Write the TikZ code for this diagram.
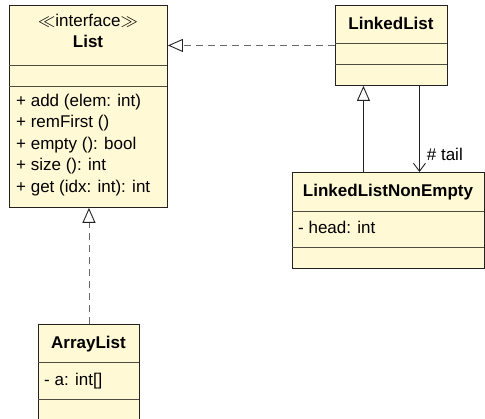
\documentclass[tikz,border=0pt]{standalone}
\usepackage{fontspec}
\setmainfont{Liberation Sans}
\usetikzlibrary{positioning,arrows.meta,calc}
\definecolor{classfill}{HTML}{FFF9D6}
\definecolor{ink}{HTML}{222222}
\definecolor{rulec}{HTML}{4D4D40}
\definecolor{dashc}{HTML}{6A6A6A}
\tikzset{
  classbox/.style={draw=ink, fill=classfill, line width=0.9pt, anchor=north west, inner sep=0pt},
  sepline/.style={draw=rulec, line width=0.9pt},
  classname/.style={font=\fontsize{17}{20}\selectfont\bfseries, inner sep=0pt, anchor=base},
  member/.style={font=\fontsize{17}{20}\selectfont, inner sep=0pt, anchor=base west},
  realize/.style={draw=dashc, line width=0.9pt, dash pattern=on 7pt off 5pt,
    -{Triangle[open, length=15pt, width=13pt, line width=0.9pt, color=ink]}},
  generalize/.style={draw=ink, line width=0.9pt,
    -{Triangle[open, length=15pt, width=13pt, line width=0.9pt]}},
  assoc/.style={draw=ink, line width=0.9pt, -{Straight Barb[length=8pt, width=12pt, line width=0.9pt]}}
}
\begin{document}
\begin{tikzpicture}[x=1pt, y=-1pt, font=\fontsize{17}{20}\selectfont]
\useasboundingbox (0,0) rectangle (485,419);

% interface List
\node[classbox, minimum width=158pt, minimum height=202pt] (list) at (9,5) {};
\draw[sepline] (9,65) -- (167,65);
\draw[sepline] (9,86) -- (167,86);
\node[member, anchor=base] (stereo) at (88,27) {$\ll$interface$\gg$};
\node[classname] (listname) at (88,48) {List};
\node[member] (m1) at (16,107) {+ add (elem: int)};
\node[member] (m2) at (16,128) {+ remFirst ()};
\node[member] (m3) at (16,150) {+ empty (): bool};
\node[member] (m4) at (16,171) {+ size (): int};
\node[member] (m5) at (16,193) {+ get (idx: int): int};

% LinkedList
\node[classbox, minimum width=112pt, minimum height=80pt] (ll) at (335,5) {};
\draw[sepline] (335,43) -- (447,43);
\draw[sepline] (335,64) -- (447,64);
\node[classname] (llname) at (391,30) {LinkedList};

% LinkedListNonEmpty
\node[classbox, minimum width=192pt, minimum height=96pt] (lne) at (292,172) {};
\draw[sepline] (292,211) -- (484,211);
\draw[sepline] (292,247) -- (484,247);
\node[classname] (lnename) at (388,197) {LinkedListNonEmpty};
\node[member] (head) at (298,234) {- head: int};

% ArrayList
\node[classbox, minimum width=101pt, minimum height=100pt] (al) at (38,324) {};
\draw[sepline] (38,362) -- (139,362);
\draw[sepline] (38,399) -- (139,399);
\node[classname] (alname) at (88.5,349) {ArrayList};
\node[member] (attr) at (44,386) {- a: int[]};

% relations
\draw[realize] (ll.west) -- (ll.west -| list.east);
\draw[realize] (al.north) -- (al.north |- list.south);
\coordinate (gentop) at ([xshift=-28pt]ll.south);
\draw[generalize] (lne.north -| gentop) -- (gentop);
\coordinate (tailtop) at ([xshift=28pt]ll.south);
\draw[assoc] (tailtop) -- (tailtop |- lne.north)
  node[pos=0.8, right=7pt, inner sep=0pt, font=\fontsize{17}{20}\selectfont] (tail) {\# tail};
\end{tikzpicture}
\end{document}
